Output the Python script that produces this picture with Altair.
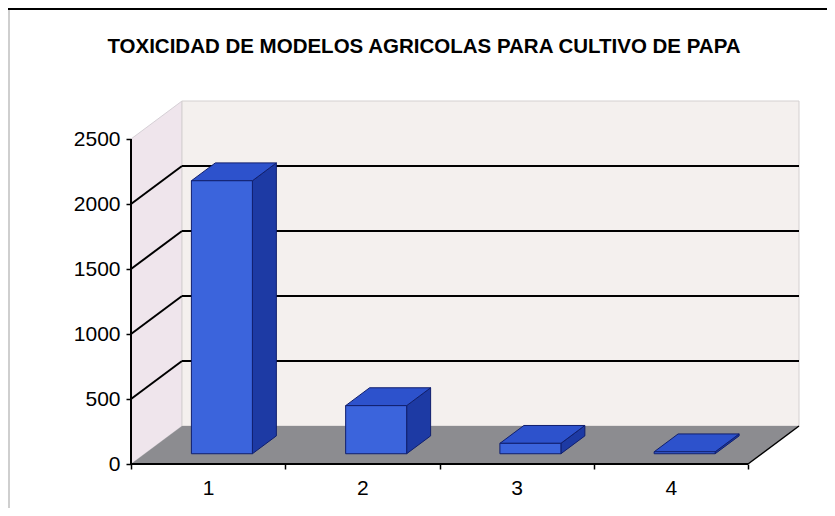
import altair as alt
import pandas as pd

# ---------------- data ----------------
categories = [1, 2, 3, 4]
values = [2100, 370, 80, 15]
y_ticks = [0, 500, 1000, 1500, 2000, 2500]
grid_values = [500, 1000, 1500, 2000]
x_tick_positions = [0.5, 1, 1.5, 2, 2.5, 3, 3.5, 4, 4.5]
title_text = "TOXICIDAD DE MODELOS AGRICOLAS PARA CULTIVO DE PAPA"

# ---------------- geometry (pseudo-3D, in data units) ----------------
W, H = 669, 364
PX_X = 154.25            # pixels per category
PX_Y = 325 / 2500        # pixels per value unit
Y_MAX = H / PX_Y
X_MIN = 0.5
X_MAX = X_MIN + W / PX_X
DX = 51 / PX_X           # depth shift in x
DY = 38 / PX_Y           # depth shift in y
F0 = 0.27                # bar front depth fraction
FD = 0.47                # bar depth fraction
HW = 30.5 / PX_X         # bar half width
Y_TOP = max(y_ticks)
X_END = max(categories) + 0.5

FONT = "Liberation Sans"
FRONT, TOP, SIDE, EDGE = "#3b64dc", "#2d52cc", "#1d3aa4", "#101f6e"

xs = alt.Scale(domain=[X_MIN, X_MAX], nice=False, zero=False)
ys = alt.Scale(domain=[0, Y_MAX], nice=False, zero=False)

x_axis = alt.Axis(
    values=x_tick_positions, domain=False, grid=False, title=None,
    labelExpr="datum.value % 1 === 0 ? format(datum.value, 'd') : ''",
    tickOpacity={"condition": {"test": "datum.value % 1 === 0", "value": 0}, "value": 1},
    tickSize=5, tickWidth=1.5, tickColor="black",
    labelFont=FONT, labelFontSize=21, labelColor="black", labelPadding=8,
    labelFlush=False, labelOverlap=False,
)
y_axis = alt.Axis(
    values=y_ticks, domain=False, grid=False, title=None, format="d",
    tickSize=5, tickWidth=1.5, tickColor="black",
    labelFont=FONT, labelFontSize=21, labelColor="black", labelPadding=6,
    labelFlush=False, labelOverlap=False,
)


def X(f="x"):
    return alt.X(f"{f}:Q", scale=xs, axis=x_axis)


def Y(f="y"):
    return alt.Y(f"{f}:Q", scale=ys, axis=y_axis)


# ---------------- walls and floor ----------------
left_wall = pd.DataFrame({"x": [X_MIN, X_MIN + DX], "y": [Y_TOP, Y_TOP + DY], "y2": [0, DY]})
back_wall = pd.DataFrame({"x": [X_MIN + DX], "x2": [X_END + DX], "y": [DY], "y2": [Y_TOP + DY]})
floor = pd.DataFrame({"y": [0, DY], "x": [X_MIN, X_MIN + DX], "x2": [X_END, X_END + DX]})

l_left = alt.Chart(left_wall).mark_area(orient="vertical", color="#efe5ec",
                                        stroke="#d6d0d6", strokeWidth=1).encode(
    x=X(), y=Y(), y2="y2:Q")
l_back = alt.Chart(back_wall).mark_rect(color="#f4f0ee", stroke="#d4d0d0", strokeWidth=1).encode(
    x=X(), x2="x2:Q", y=Y(), y2="y2:Q")
l_floor = alt.Chart(floor).mark_area(orient="horizontal", color="#8c8c90").encode(
    y=Y(), x=X(), x2="x2:Q")

# gridlines on the back wall + diagonals on the side wall
grid = pd.DataFrame({"v": grid_values})
grid["y"] = grid["v"] + DY
grid["x"] = X_MIN + DX
grid["x2"] = X_END + DX
l_grid = alt.Chart(grid).mark_rule(color="black", strokeWidth=2).encode(
    x=X(), x2="x2:Q", y=Y())

diag = pd.DataFrame({"v": grid_values})
diag["x"] = X_MIN
diag["x2"] = X_MIN + DX
diag["y"] = diag["v"]
diag["y2"] = diag["v"] + DY
l_diag = alt.Chart(diag).mark_rule(color="black", strokeWidth=2).encode(
    x=X(), x2="x2:Q", y=Y(), y2="y2:Q")

# axis lines / floor edges
yline = pd.DataFrame({"x": [X_MIN], "y": [0], "y2": [Y_TOP]})
l_yline = alt.Chart(yline).mark_rule(color="black", strokeWidth=2).encode(
    x=X(), y=Y(), y2="y2:Q")
front_edge = pd.DataFrame({"x": [X_MIN], "x2": [X_END], "y": [0]})
l_front = alt.Chart(front_edge).mark_rule(color="black", strokeWidth=2).encode(
    x=X(), x2="x2:Q", y=Y())
right_edge = pd.DataFrame({"x": [X_END], "x2": [X_END + DX], "y": [0], "y2": [DY]})
l_right = alt.Chart(right_edge).mark_rule(color="black", strokeWidth=1.5).encode(
    x=X(), x2="x2:Q", y=Y(), y2="y2:Q")

# ---------------- 3D bars ----------------
front_rows, side_rows, top_rows = [], [], []
for c, v in zip(categories, values):
    fx0, fy0 = F0 * DX, F0 * DY
    fx1, fy1 = (F0 + FD) * DX, (F0 + FD) * DY
    front_rows.append({"bar": c, "x": c - HW + fx0, "x2": c + HW + fx0, "y": v + fy0, "y2": fy0})
    side_rows.append({"bar": c, "x": c + HW + fx0, "y": v + fy0, "y2": fy0})
    side_rows.append({"bar": c, "x": c + HW + fx1, "y": v + fy1, "y2": fy1})
    top_rows.append({"bar": c, "y": v + fy0, "x": c - HW + fx0, "x2": c + HW + fx0})
    top_rows.append({"bar": c, "y": v + fy1, "x": c - HW + fx1, "x2": c + HW + fx1})

l_side = alt.Chart(pd.DataFrame(side_rows)).mark_area(
    orient="vertical", color=SIDE, stroke=EDGE, strokeWidth=1).encode(
    x=X(), y=Y(), y2="y2:Q", detail="bar:N")
l_top = alt.Chart(pd.DataFrame(top_rows)).mark_area(
    orient="horizontal", color=TOP, stroke=EDGE, strokeWidth=1).encode(
    y=Y(), x=X(), x2="x2:Q", detail="bar:N")
l_bar = alt.Chart(pd.DataFrame(front_rows)).mark_rect(
    color=FRONT, stroke=EDGE, strokeWidth=1).encode(
    x=X(), x2="x2:Q", y=Y(), y2="y2:Q")

# ---------------- title and frame ----------------
l_title = alt.Chart(pd.DataFrame({"t": [title_text]})).mark_text(
    font=FONT, fontSize=20.5, fontWeight="bold", color="black",
    align="center", baseline="alphabetic").encode(
    text="t:N", x=alt.value(293), y=alt.value(-47))

l_frame_top = alt.Chart(pd.DataFrame({"k": [0]})).mark_rule(color="black", strokeWidth=2).encode(
    x=alt.value(-123), x2=alt.value(W + 27), y=alt.value(-91))
l_frame_left = alt.Chart(pd.DataFrame({"k": [0]})).mark_rule(color="#cfcfcf", strokeWidth=2).encode(
    x=alt.value(-122), y=alt.value(-90), y2=alt.value(H + 44))

chart = alt.layer(
    l_left, l_back, l_floor, l_grid, l_diag, l_yline, l_front, l_right,
    l_side, l_top, l_bar, l_title, l_frame_top, l_frame_left,
).properties(
    width=W, height=H,
    autosize=alt.AutoSizeParams(type="none"),
    padding={"left": 123, "top": 92, "right": 27, "bottom": 44},
    background="white",
).configure_view(stroke=None)

chart.save("out.html", embed_options={"renderer": "svg", "actions": False})
